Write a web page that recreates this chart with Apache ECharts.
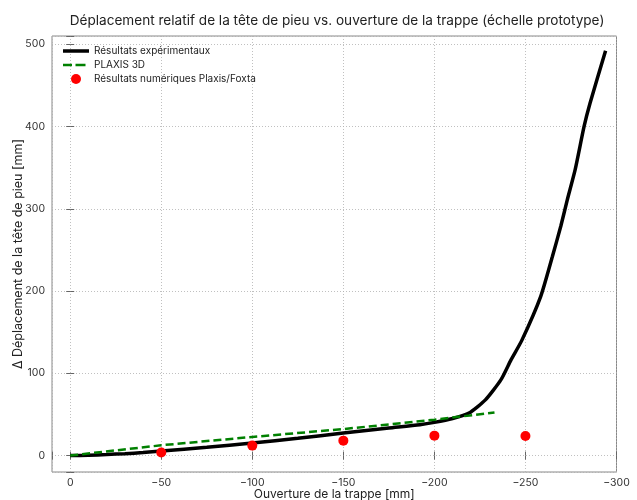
<!DOCTYPE html>
<html>
<head>
<meta charset="utf-8">
<script src="https://cdn.jsdelivr.net/npm/echarts@6/dist/echarts.min.js"></script>
<style>html,body{margin:0;padding:0;background:#fff}#c{width:637px;height:500px}</style>
</head>
<body>
<div id="c"></div>
<script>
// Experimental curve
const expX = [0, -10, -20, -30, -40, -50, -75, -100, -125, -150, -175, -192, -200, -210, -219, -228, -236.5, -242, -248, -258.4, -264.8, -269.4, -273, -277.3, -282.2, -285.5, -294];
const expY = [0, 0.3, 1.2, 2.3, 3.6, 5.5, 10, 15.3, 21, 27.4, 33.5, 37.5, 40.3, 45, 51.6, 67.7, 92, 116, 140, 193.6, 242, 278.7, 311, 347.5, 400, 428.5, 492];
// PLAXIS 3D
const plaxX = [0, -50, -100, -150, -200, -233];
const plaxY = [0, 12.5, 22.6, 32.2, 43.5, 52.4];
// Numerical Plaxis/Foxta
const numX = [-50, -100, -150, -200, -250];
const numY = [3.6, 12.1, 18.1, 24.2, 23.8];

const seriesNames = ['Résultats expérimentaux', 'PLAXIS 3D', 'Résultats numériques Plaxis/Foxta'];
const titleText = 'Déplacement relatif de la tête de pieu vs. ouverture de la trappe (échelle prototype)';
const xName = 'Ouverture de la trappe [mm]';
const yName = 'Δ Déplacement de la tête de pieu [mm]';

const zip = (a, b) => a.map((v, i) => [v, b[i]]);
const FONT = 'Inter';
const fmtNum = v => String(v).replace('-', '\u2212');
const chart = echarts.init(document.getElementById('c'), null, {renderer: 'canvas'});
const gridLine = {show: true, lineStyle: {color: '#b0b0b0', type: [1, 2], width: 0.8}};
const tick = {show: true, inside: true, length: 4, lineStyle: {color: '#666'}};
const solidIcon = 'path://M0,0h0.01v0.01h-0.01z M0,3.2h26v3.6h-26z M25.99,9.99h0.01v0.01h-0.01z';
const dashIcon = 'path://M0,0h0.01v0.01h-0.01z M0,3.75h9v2.5h-9z M12.5,3.75h10v2.5h-10z M25.99,9.99h0.01v0.01h-0.01z';
chart.setOption({
  animation: false,
  backgroundColor: '#fff',
  textStyle: {fontFamily: FONT},
  title: {text: titleText, left: 332, top: 9, textAlign: 'center',
    textStyle: {fontFamily: FONT, fontSize: 13.6, fontWeight: 'normal', color: '#222'}},
  grid: {left: 52, right: 20.5, top: 36, bottom: 28, show: true, borderColor: '#888', borderWidth: 1,
    outerBoundsMode: 'none', containLabel: false},
  legend: {
    orient: 'vertical', left: 58, top: 41, itemGap: 4, itemWidth: 26, itemHeight: 10,
    textStyle: {fontFamily: FONT, fontSize: 10, color: '#222'},
    data: [
      {name: seriesNames[0], icon: solidIcon, itemStyle: {color: '#000'}},
      {name: seriesNames[1], icon: dashIcon, itemStyle: {color: '#008000'}},
      {name: seriesNames[2], icon: 'circle', itemStyle: {color: '#ff0000'}}
    ]
  },
  xAxis: [{
    type: 'value', min: -300, max: 10, inverse: true, splitNumber: 6, position: 'bottom',
    axisLine: {show: false}, axisTick: tick, splitLine: gridLine,
    axisLabel: {fontFamily: FONT, fontSize: 10.5, color: '#333', margin: 5,
      formatter: v => (v % 50 === 0 ? fmtNum(v) : '')},
    name: xName, nameLocation: 'middle', nameGap: 16, nameMoveOverlap: false,
    nameTextStyle: {fontFamily: FONT, fontSize: 12, color: '#222', verticalAlign: 'top'}
  }, {
    type: 'value', min: -300, max: 10, inverse: true, splitNumber: 6, position: 'top',
    axisLine: {show: false}, axisTick: tick, splitLine: {show: false}, axisLabel: {show: false}
  }],
  yAxis: [{
    type: 'value', min: -20, max: 510, splitNumber: 5, position: 'left',
    axisLine: {show: false}, axisTick: tick, splitLine: gridLine,
    axisLabel: {fontFamily: FONT, fontSize: 10.5, color: '#333', margin: 7,
      formatter: v => (v % 100 === 0 ? fmtNum(v) : '')},
    name: yName, nameLocation: 'middle', nameGap: 27, nameMoveOverlap: false,
    nameTextStyle: {fontFamily: FONT, fontSize: 12.5, color: '#222'}
  }, {
    type: 'value', min: -20, max: 510, splitNumber: 5, position: 'right',
    axisLine: {show: false}, axisTick: tick, splitLine: {show: false}, axisLabel: {show: false}
  }],
  series: [{
    name: seriesNames[0], type: 'line', data: zip(expX, expY), symbol: 'none', smooth: 0.2,
    lineStyle: {color: '#000', width: 3.5}, itemStyle: {color: '#000'}, z: 3
  }, {
    name: seriesNames[1], type: 'line', data: zip(plaxX, plaxY), symbol: 'none',
    lineStyle: {color: '#008000', width: 2.5, type: [8, 4]}, itemStyle: {color: '#008000'}, z: 4
  }, {
    name: seriesNames[2], type: 'scatter', data: zip(numX, numY), symbolSize: 10,
    itemStyle: {color: '#ff0000', opacity: 1}, z: 5
  }]
});
</script>
</body>
</html>
